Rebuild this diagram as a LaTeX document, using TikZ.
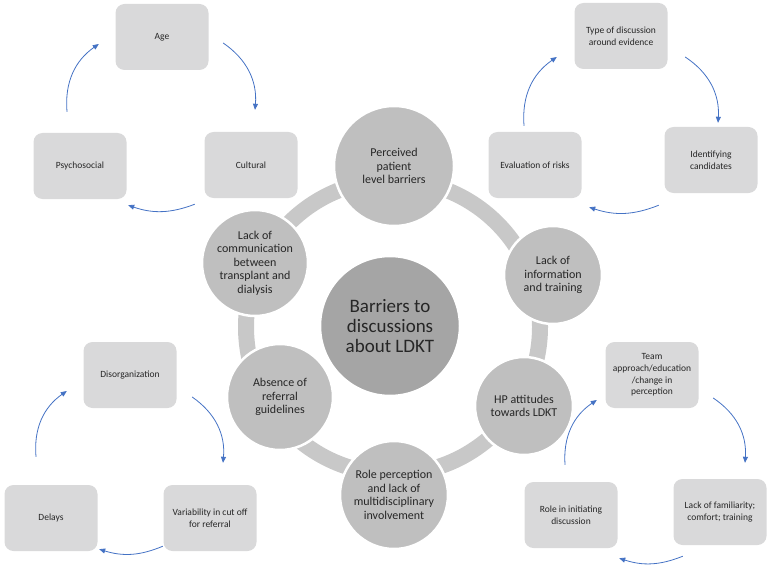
\documentclass[tikz,border=0pt]{standalone}
\usepackage{fontspec}
\setmainfont{Carlito}
\usepackage{tikz}
\usetikzlibrary{arrows.meta,calc}
\definecolor{boxgray}{RGB}{217,217,218}
\definecolor{satgray}{RGB}{191,191,191}
\definecolor{hubgray}{RGB}{165,165,165}
\definecolor{ringgray}{RGB}{200,200,200}
\definecolor{flowblue}{RGB}{68,114,196}
\definecolor{txtgray}{RGB}{38,38,38}
\tikzset{
    factor/.style={rectangle, rounded corners=9pt, fill=boxgray, minimum width=93pt,
        minimum height=66pt, inner sep=2pt, align=center, text=txtgray,
        font=\fontsize{9.5}{11.7}\selectfont},
    barrier/.style={circle, fill=satgray, draw=white, line width=2.5pt, minimum size=106pt,
        inner sep=0pt, align=center, text=txtgray, font=\fontsize{12}{13.5}\selectfont},
    hub/.style={barrier, fill=hubgray, minimum size=140pt, font=\fontsize{19}{20}\selectfont},
    loopflow/.style={draw=flowblue, line width=0.8pt, -{Triangle[length=6pt,width=5pt]}}
}

\begin{document}
\begin{tikzpicture}[x=1pt,y=-1pt]
    \useasboundingbox (0,0) rectangle (767,564);
    \draw[ringgray, line width=16pt] (393,327) circle[radius=147];
    \node[hub] (hub) at (390,326) {Barriers to\\discussions\\about LDKT};
    \node[barrier, minimum size=120pt] (perc) at (394,166) {Perceived\\patient\\level barriers};
    \node[barrier, minimum size=98pt] (info) at (553,275) {Lack of\\information\\and training};
    \node[barrier, minimum size=98pt] (attit) at (524,406) {HP attitudes\\towards LDKT};
    \node[barrier, minimum size=108pt] (rolep) at (394,495) {Role perception\\and lack of\\multidisciplinary\\involvement};
    \node[barrier] (absn) at (280,397) {Absence of\\referral\\guidelines};
    \node[barrier] (comm) at (255,263) {Lack of\\communication\\between\\transplant and\\dialysis};

    \node[factor] (age) at (162,37) {Age};
    \node[factor] (psy) at (80,166) {Psychosocial};
    \node[factor] (cult) at (251,165) {Cultural};
    \draw[loopflow] ($(psy.north)+(-13,-21)$) to[bend left=30] ($(age.west)+(-16.5,7)$);
    \draw[loopflow] ($(age.east)+(14.5,6)$) to[bend left=30] ($(cult.north)+(4,-22)$);
    \draw[loopflow] ($(cult.south west)+(-9.5,6)$) to[bend left=20] ($(psy.south east)+(1.5,6)$);

    \node[factor] (evid) at (621,36) {Type of discussion\\around evidence};
    \node[factor] (risk) at (535,165) {Evaluation of risks};
    \node[factor] (cand) at (711,160) {Identifying\\candidates};
    \draw[loopflow] ($(risk.north)+(-11,-6)$) to[bend left=30] ($(evid.west)+(-17.5,21)$);
    \draw[loopflow] ($(evid.east)+(17.5,21)$) to[bend left=30] ($(cand.north)+(7,-4)$);
    \draw[loopflow] ($(cand.south west)+(-5.5,12)$) to[bend left=20] ($(risk.south east)+(7.5,9)$);

    \node[factor] (disorg) at (130,375) {Disorganization};
    \node[factor] (delay) at (51,518) {Delays};
    \node[factor] (cutoff) at (210,518) {Variability in cut off\\for referral};
    \draw[loopflow] ($(delay.north)+(-15,-28)$) to[bend left=30] ($(disorg.west)+(-16.5,16)$);
    \draw[loopflow] ($(disorg.east)+(15.5,22)$) to[bend left=30] ($(cutoff.north)+(13,-22)$);
    \draw[loopflow] ($(cutoff.south west)+(-0.5,-5)$) to[bend left=20] ($(delay.south east)+(1.5,-2)$);

    \node[factor] (team) at (652,375) {Team\\approach/education\\/change in\\perception};
    \node[factor] (initi) at (571,515) {Role in initiating\\discussion};
    \node[factor] (famil) at (720,512) {Lack of familiarity;\\comfort; training};
    \draw[loopflow] ($(initi.north)+(-6,-17)$) to[bend left=30] ($(team.west)+(-8.5,25)$);
    \draw[loopflow] ($(team.east)+(14.5,23)$) to[bend left=30] ($(famil.north)+(25,-16)$);
    \draw[loopflow] ($(famil.south west)+(9.5,11)$) to[bend left=20] ($(initi.south east)+(1.5,10)$);
\end{tikzpicture}
\end{document}
